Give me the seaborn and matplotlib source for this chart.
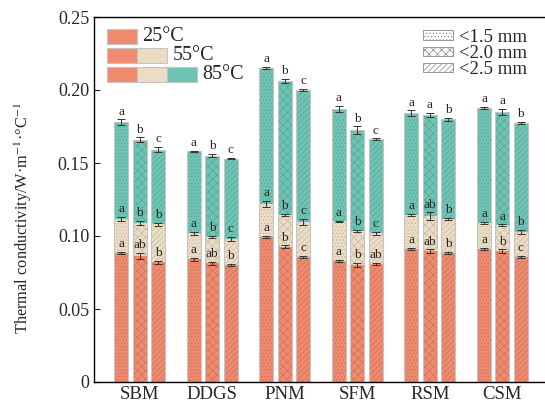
import matplotlib
matplotlib.use('Agg')
import matplotlib.pyplot as plt
import matplotlib.colors as mcolors
from matplotlib.patches import Patch, Rectangle
import numpy as np
import pandas as pd
import seaborn as sns

materials = ['SBM', 'DDGS', 'PNM', 'SFM', 'RSM', 'CSM']
sizes = ['<1.5 mm', '<2.0 mm', '<2.5 mm']
temps = ['25°C', '55°C', '85°C']

# thermal conductivity, rows = material, cols = particle size
k25 = [[0.0884, 0.0863, 0.0820], [0.0840, 0.0813, 0.0800], [0.0993, 0.0925, 0.0856],
       [0.0829, 0.0800, 0.0808], [0.0910, 0.0897, 0.0884], [0.0911, 0.0897, 0.0856]]
k55 = [[0.1116, 0.1090, 0.1080], [0.1020, 0.0995, 0.0980], [0.1220, 0.1144, 0.1096],
       [0.1100, 0.1034, 0.1020], [0.1144, 0.1137, 0.1116], [0.1090, 0.1075, 0.1027]]
k85 = [[0.1780, 0.1660, 0.1590], [0.1580, 0.1550, 0.1530], [0.2150, 0.2060, 0.2000],
       [0.1870, 0.1726, 0.1664], [0.1840, 0.1830, 0.1800], [0.1877, 0.1850, 0.1774]]

# standard errors
e25 = [[0.0008, 0.0020, 0.0010], [0.0008, 0.0012, 0.0008], [0.0008, 0.0010, 0.0008],
       [0.0008, 0.0015, 0.0008], [0.0008, 0.0012, 0.0008], [0.0008, 0.0012, 0.0008]]
e55 = [[0.0015, 0.0012, 0.0012], [0.0010, 0.0008, 0.0012], [0.0020, 0.0005, 0.0020],
       [0.0005, 0.0010, 0.0010], [0.0008, 0.0025, 0.0008], [0.0005, 0.0005, 0.0015]]
e85 = [[0.0018, 0.0015, 0.0018], [0.0003, 0.0010, 0.0003], [0.0008, 0.0015, 0.0010],
       [0.0020, 0.0025, 0.0005], [0.0020, 0.0015, 0.0010], [0.0005, 0.0020, 0.0010]]

# significance letters
l25 = [['a', 'ab', 'b'], ['a', 'ab', 'b'], ['a', 'b', 'c'],
       ['a', 'b', 'ab'], ['a', 'ab', 'b'], ['a', 'b', 'c']]
l55 = [['a', 'b', 'b'], ['a', 'b', 'c'], ['a', 'b', 'c'],
       ['a', 'b', 'c'], ['a', 'ab', 'b'], ['a', 'a', 'b']]
l85 = [['a', 'b', 'c'], ['a', 'b', 'c'], ['a', 'b', 'c'],
       ['a', 'b', 'c'], ['a', 'a', 'b'], ['a', 'a', 'b']]

c25, c55, c85 = '#F08A6E', '#ECDCC4', '#6EC4B4'
hatches = ['.....', 'xxxx', '//////']

sns.set_style('ticks')
plt.rcParams['font.family'] = ['Liberation Serif', 'DejaVu Serif']
plt.rcParams['mathtext.fontset'] = 'stix'
plt.rcParams['hatch.linewidth'] = 0.5

rows = []
for i, m in enumerate(materials):
    for j, s in enumerate(sizes):
        rows.append({'material': m, 'size': s, 'k25': k25[i][j], 'k55': k55[i][j], 'k85': k85[i][j]})
df = pd.DataFrame(rows)


def shade(c, f=0.84):
    r, g, b = mcolors.to_rgb(c)
    return (r * f, g * f, b * f)


fig = plt.figure(figsize=(5.45, 4.07), dpi=100)
ax = fig.add_axes([94 / 545, 25 / 407, 454 / 545, 365 / 407])

layers = [('k85', c85, k85, e85, l85), ('k55', c55, k55, e55, l55), ('k25', c25, k25, e25, l25)]
for col, color, vals, errs, labs in layers:
    n0 = len(ax.patches)
    sns.barplot(data=df, x='material', y=col, hue='size', hue_order=sizes, palette=[color] * 3,
                saturation=1, width=0.757, gap=0.235, errorbar=None, legend=False, ax=ax)
    new = ax.patches[n0:]
    for p_idx, p in enumerate(new):
        j, i = divmod(p_idx, len(materials))
        p.set_hatch(hatches[j])
        p.set_edgecolor(shade(color))
        p.set_linewidth(0)
        xc = p.get_x() + p.get_width() / 2
        ax.errorbar(xc, vals[i][j], yerr=errs[i][j], fmt='none', ecolor='#333333',
                    elinewidth=0.7, capsize=3, capthick=0.7, zorder=5)
        ax.text(xc, vals[i][j] + errs[i][j] + 0.0012, labs[i][j], ha='center', va='bottom',
                fontsize=9.5, zorder=6)

# light grey bar outlines
sns.barplot(data=df, x='material', y='k85', hue='size', hue_order=sizes, palette=['#c4c4c4'] * 3,
            fill=False, linewidth=0.8, width=0.757, gap=0.235, errorbar=None, legend=False, ax=ax)

ax.set_xlim(-0.63, 5.63)
ax.set_ylim(0, 0.25)
ax.set_yticks([0, 0.05, 0.10, 0.15, 0.20, 0.25])
ax.set_yticklabels(['0', '0.05', '0.10', '0.15', '0.20', '0.25'])
ax.tick_params(direction='in', length=4, labelsize=13, width=0.8)
ax.tick_params(axis='x', labelsize=13.5, pad=3)
ax.set_xlabel('')
ax.set_ylabel('Thermal conductivity/W·m$^{-1}$·°C$^{-1}$', fontsize=11.8)
ax.yaxis.set_label_coords(-0.132, (382 - 218) / 365)
for s in ['left', 'bottom', 'top']:
    ax.spines[s].set_linewidth(1.0)
    ax.spines[s].set_color('black')
ax.spines['right'].set_visible(False)

# temperature legend (stacked swatches)
sw_w, sw_h = 30 / 454, 15 / 365
tops = [(382 - 44) / 365, (382 - 63) / 365, (382 - 82) / 365]
x0 = (107 - 94) / 454
cols = [c25, c55, c85]
for r, t in enumerate(temps):
    for k in range(r + 1):
        ax.add_patch(Rectangle((x0 + k * sw_w, tops[r]), sw_w, sw_h, transform=ax.transAxes,
                               facecolor=cols[k], edgecolor='#c4c4c4', linewidth=0.8, clip_on=False))
    ax.text(x0 + (r + 1) * sw_w + 0.012, tops[r] + sw_h / 2, t, transform=ax.transAxes,
            ha='left', va='center', fontsize=14.5)

# particle size legend
handles = [Patch(facecolor='white', edgecolor='#888888', hatch=h, linewidth=0.6) for h in hatches]
ax.legend(handles, sizes, loc='upper left', bbox_to_anchor=((423 - 94) / 454, (382 - 29) / 365),
          frameon=False, fontsize=13.5, handlelength=1.6, handleheight=0.42, handletextpad=0.3,
          labelspacing=-0.05, borderpad=0, borderaxespad=0)

fig.savefig('out.png', dpi=100)
